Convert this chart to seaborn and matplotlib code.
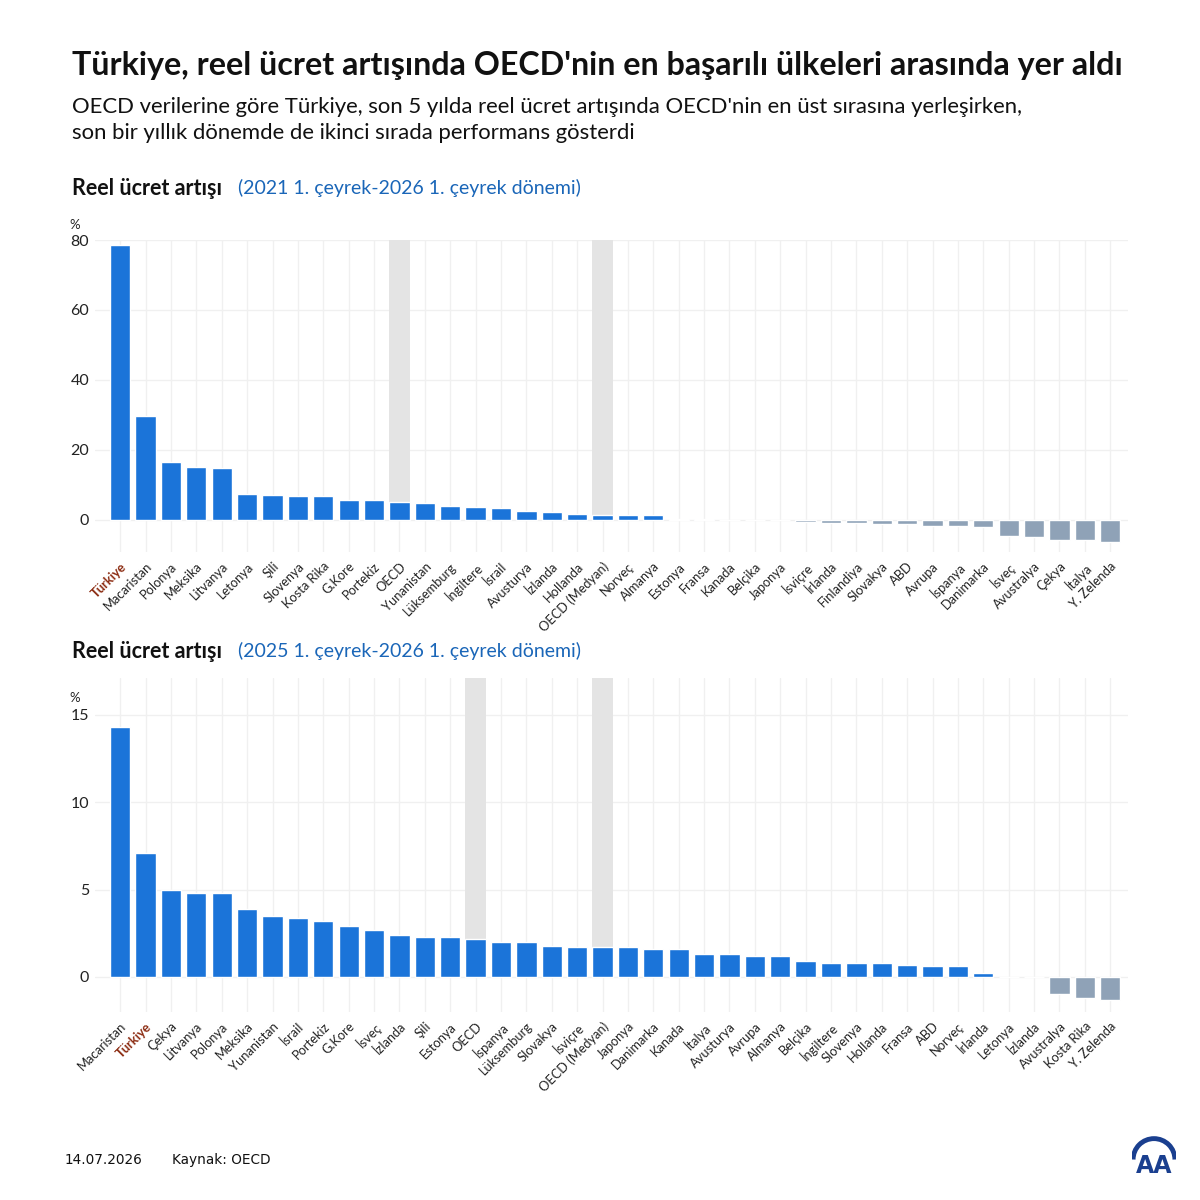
import numpy as np
import pandas as pd
import matplotlib.pyplot as plt
import seaborn as sns
from matplotlib.patches import Arc

# 2021 Q1 - 2026 Q1
countries_5y = ["Türkiye", "Macaristan", "Polonya", "Meksika", "Litvanya", "Letonya", "Şili",
                "Slovenya", "Kosta Rika", "G.Kore", "Portekiz", "OECD", "Yunanistan", "Lüksemburg",
                "İngiltere", "İsrail", "Avusturya", "İzlanda", "Hollanda", "OECD (Medyan)", "Norveç",
                "Almanya", "Estonya", "Fransa", "Kanada", "Belçika", "Japonya", "İsviçre", "İrlanda",
                "Finlandiya", "Slovakya", "ABD", "Avrupa", "İspanya", "Danimarka", "İsveç",
                "Avustralya", "Çekya", "İtalya", "Y. Zelenda"]
values_5y = [78.6, 29.7, 16.6, 15.1, 14.8, 7.4, 7.0, 6.6, 6.6, 5.7, 5.5, 5.0, 4.7, 4.0,
             3.6, 3.2, 2.4, 2.1, 1.5, 1.2, 1.2, 1.2, 0.25, 0.25, 0.0, 0.0, -0.2, -0.7, -0.9,
             -1.0, -1.4, -1.4, -1.8, -2.0, -2.1, -4.8, -5.1, -5.8, -6.0, -6.5]

# 2025 Q1 - 2026 Q1
countries_1y = ["Macaristan", "Türkiye", "Çekya", "Litvanya", "Polonya", "Meksika", "Yunanistan",
                "İsrail", "Portekiz", "G.Kore", "İsveç", "İzlanda", "Şili", "Estonya", "OECD",
                "İspanya", "Lüksemburg", "Slovakya", "İsviçre", "OECD (Medyan)", "Japonya",
                "Danimarka", "Kanada", "İtalya", "Avusturya", "Avrupa", "Almanya", "Belçika",
                "İngiltere", "Slovenya", "Hollanda", "Fransa", "ABD", "Norveç", "İrlanda",
                "Letonya", "İzlanda ", "Avustralya", "Kosta Rika", "Y. Zelenda"]
values_1y = [14.3, 7.1, 5.0, 4.8, 4.8, 3.9, 3.5, 3.4, 3.2, 2.9, 2.7, 2.4, 2.3, 2.3, 2.2,
             2.0, 2.0, 1.8, 1.7, 1.7, 1.7, 1.6, 1.6, 1.3, 1.3, 1.2, 1.2, 0.9, 0.8, 0.8,
             0.8, 0.7, 0.6, 0.6, 0.2, 0.0, 0.0, -1.0, -1.2, -1.3]

ticks_5y = [0, 20, 40, 60, 80]
ticks_1y = [0, 5, 10, 15]
highlight = ["OECD", "OECD (Medyan)"]

BLUE = "#1b74d9"
NEG = "#8fa2b7"
BAND = "#e4e4e4"
GRID = "#f0f0f0"
DARK = "#111111"
RED = "#8c2c12"

sns.set_theme(style="white")
plt.rcParams["font.family"] = ["Lato", "DejaVu Sans"]

fig = plt.figure(figsize=(12, 12), dpi=100)


def draw(ax, names, vals, ticks, ylim):
    df = pd.DataFrame({"country": names, "value": vals})
    pal = {n: (BLUE if v >= 0 else NEG) for n, v in zip(names, vals)}
    ax.set_ylim(*ylim)
    frac0 = (0 - ylim[0]) / (ylim[1] - ylim[0])
    for h in highlight:
        i = names.index(h)
        ax.axvspan(i - 0.4, i + 0.4, ymin=frac0, ymax=1, color=BAND, zorder=0.5, lw=0)
    for i in range(len(names)):
        ax.axvline(i, color=GRID, lw=1, zorder=0.2)
    for t in ticks:
        ax.axhline(t, color=GRID, lw=1, zorder=0.2)
    sns.barplot(data=df, x="country", y="value", hue="country", palette=pal,
                legend=False, width=0.8, saturation=1, ax=ax, zorder=2)
    ax.set_xlim(-1.0, len(names) - 0.3)
    ax.set_ylim(*ylim)
    ax.set_yticks(ticks)
    ax.set_yticklabels([str(t) for t in ticks], fontsize=11.5, color="#222222")
    ax.set_xticks(range(len(names)))
    ax.set_xticklabels([n.strip() for n in names], rotation=45, ha="right",
                       rotation_mode="anchor", fontsize=9.3, color="#222222")
    for lab in ax.get_xticklabels():
        if lab.get_text() == "Türkiye":
            lab.set_color(RED)
            lab.set_fontweight("bold")
    ax.tick_params(axis="both", length=0, pad=4)
    ax.tick_params(axis="x", pad=6)
    ax.set_xlabel("")
    ax.set_ylabel("")
    sns.despine(ax=ax, left=True, bottom=True)


ax1 = fig.add_axes([0.079, 0.54, 0.861, 0.26])
draw(ax1, countries_5y, values_5y, ticks_5y, (-9.3, 80))

ax2 = fig.add_axes([0.079, 0.1567, 0.861, 0.2783])
draw(ax2, countries_1y, values_1y, ticks_1y, (-2.0, 17.1))

# texts
fig.text(0.06, 1 - 65 / 1200, "Türkiye, reel ücret artışında OECD'nin en başarılı ülkeleri arasında yer aldı",
         fontsize=23.2, fontweight="bold", color=DARK, va="center")
fig.text(0.06, 1 - 107 / 1200,
         "OECD verilerine göre Türkiye, son 5 yılda reel ücret artışında OECD'nin en üst sırasına yerleşirken,",
         fontsize=15.9, color=DARK, va="center")
fig.text(0.06, 1 - 133 / 1200, "son bir yıllık dönemde de ikinci sırada performans gösterdi",
         fontsize=15.9, color=DARK, va="center")

for ypx, period in [(188, "(2021 1. çeyrek-2026 1. çeyrek dönemi)"),
                    (651, "(2025 1. çeyrek-2026 1. çeyrek dönemi)")]:
    fig.text(0.06, 1 - ypx / 1200, "Reel ücret artışı", fontsize=15.5, fontweight="bold",
             color=DARK, va="center")
    fig.text(238 / 1200, 1 - ypx / 1200, period, fontsize=14, color="#1a66b8", va="center")

fig.text(75 / 1200, 1 - 225 / 1200, "%", fontsize=9.5, color="#222222", ha="center", va="center")
fig.text(75 / 1200, 1 - 698 / 1200, "%", fontsize=9.5, color="#222222", ha="center", va="center")

fig.text(65 / 1200, 1 - 1160 / 1200, "14.07.2026", fontsize=9.8, color=DARK, va="center",
         family=["Liberation Sans Narrow", "DejaVu Sans"])
fig.text(172 / 1200, 1 - 1160 / 1200, "Kaynak: OECD", fontsize=9.8, color=DARK, va="center",
         family=["Liberation Sans Narrow", "DejaVu Sans"])

# AA logo
logo = fig.add_axes([1132 / 1200, 1 - 1178 / 1200, 44 / 1200, 44 / 1200])
logo.set_xlim(0, 1)
logo.set_ylim(0, 1)
logo.axis("off")
logo.add_patch(Arc((0.5, 0.42), 0.95, 0.95, theta1=0, theta2=180, color="#1a3f8f", lw=3.5))
logo.text(0.5, 0.0, "AA", fontsize=17, fontweight="bold", color="#1a3f8f", ha="center",
          va="bottom", family=["Liberation Sans Narrow", "DejaVu Sans"])

fig.savefig("out.png", dpi=100, facecolor="white")
